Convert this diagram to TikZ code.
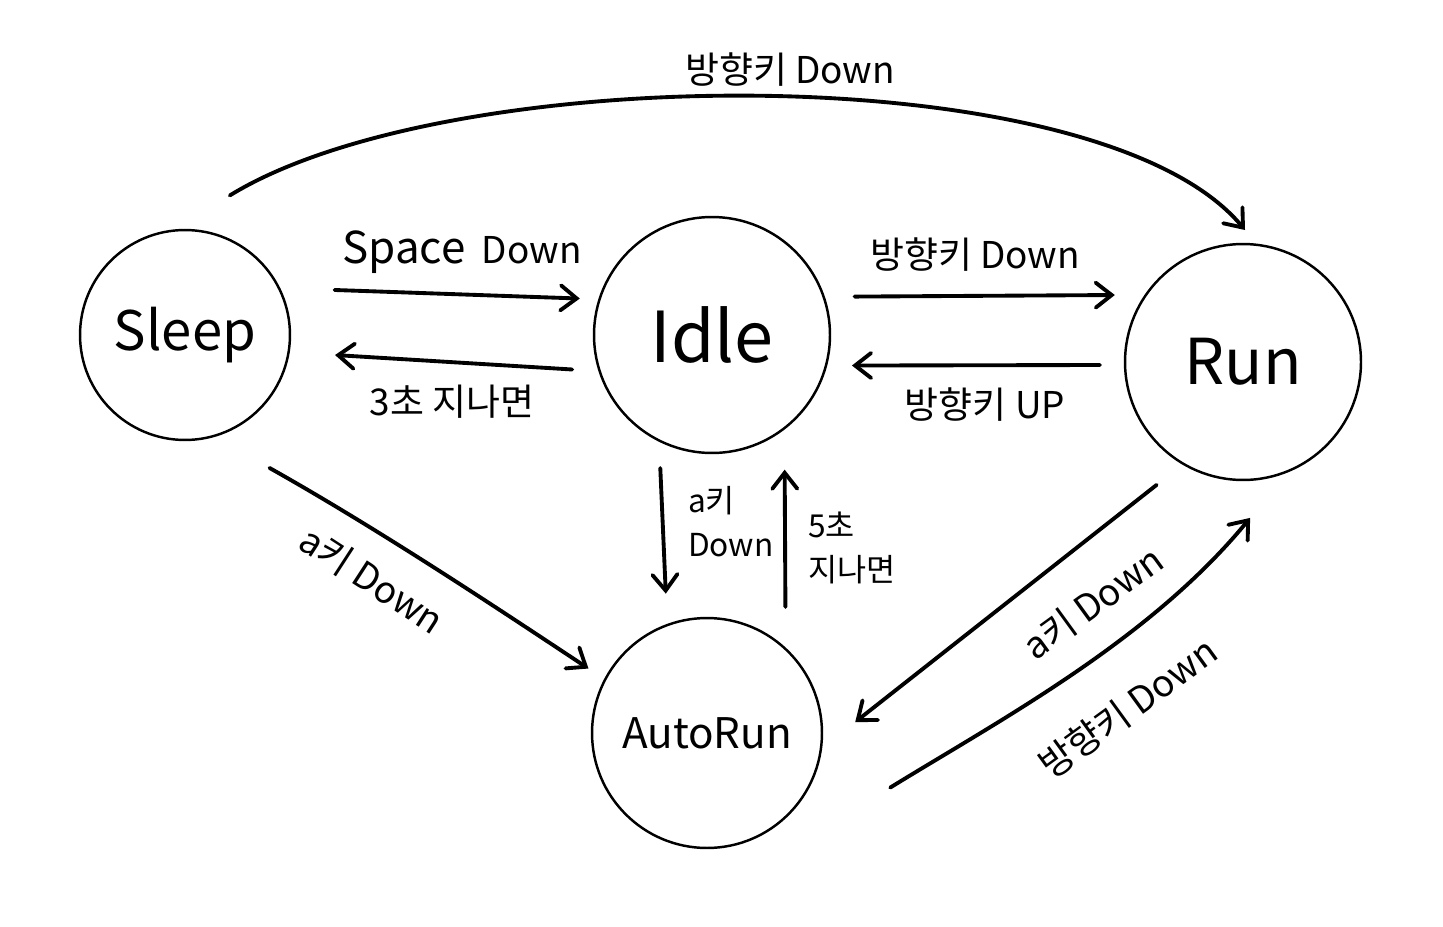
\documentclass[tikz,border=0pt]{standalone}
\usepackage{fontspec}
\setmainfont{Noto Sans CJK KR}
\usetikzlibrary{arrows.meta}
\begin{document}
\begin{tikzpicture}[x=0.02cm,y=-0.02cm,
  state/.style={circle,draw,line width=1.4pt,inner sep=0pt,outer sep=0pt},
  arr/.style={line width=2.2pt,line cap=round,-{Straight Barb[length=0.32cm,width=0.5cm,line cap=round]}},
  lbl/.style={font=\fontsize{21}{24}\selectfont,inner sep=1pt},
  slbl/.style={font=\fontsize{18}{25}\selectfont,inner sep=1pt,align=left,anchor=west}]
\useasboundingbox (0,0) rectangle (1443,926);
\node[state,minimum size=4.2cm,font=\fontsize{31}{34}\selectfont] (S) at (185,335) {Sleep};
\node[state,minimum size=4.72cm,font=\fontsize{40}{44}\selectfont] (I) at (712,335) {Idle};
\node[state,minimum size=4.72cm,font=\fontsize{36}{40}\selectfont] (R) at (1243,362) {Run};
\node[state,minimum size=4.6cm,font=\fontsize{24}{28}\selectfont] (A) at (707,733) {AutoRun};

% Sleep -> Run (top curve)
\draw[arr] ([shift={(54,-35)}]S.95) .. controls (450,60) and (1100,55) .. ([shift={(2,-14)}]R.90);
\node[lbl] (t1) at (790,70) {방향키 Down};
% Sleep -> Idle
\draw[arr] ([shift={(53,-4)}]S.23) -- ([shift={(-20,0)}]I.162);
\node[lbl] (t2) at (462,252) {{\fontsize{25}{28}\selectfont Space}\ \ Down};
% Idle -> Sleep
\draw[arr] ([shift={(-27,0)}]I.197) -- ([shift={(47,0)}]S.-11);
\node[lbl] (t3) at (452,402) {3초 지나면};
% Idle -> Run
\draw[arr] ([shift={(31,0)}]I.19) -- ([shift={(-26,-8)}]R.150);
\node[lbl] (t4) at (975,255) {방향키 Down};
% Run -> Idle
\draw[arr] ([shift={(-25,3)}]R.180) -- ([shift={(26,0)}]I.-15);
\node[lbl] (t5) at (985,405) {방향키 UP};
% Idle -> AutoRun
\draw[arr] ([shift={(0,27)}]I.-116) -- ([shift={(0,-32)}]A.111);
\node[slbl] (t6) at (686,522) {a키\\Down};
% AutoRun -> Idle
\draw[arr] ([shift={(0,-42)}]A.47) -- ([shift={(5,38)}]I.-55);
\node[slbl] (t7) at (806,548) {5초\\지나면};
% Sleep -> AutoRun
\draw[arr] ([shift={(32,42)}]S.-60) .. controls (380,530) and (500,610) .. ([shift={(-19,-7)}]A.150);
\node[lbl,rotate=-33] (t8) at (372,580) {a키 Down};
% Run -> AutoRun
\draw[arr] ([shift={(-46,12)}]R.-110) -- ([shift={(35,9)}]A.10);
\node[lbl,rotate=36] (t9) at (1093,603) {a키 Down};
% AutoRun -> Run
\draw[arr] ([shift={(79,6)}]A.-25) .. controls (1000,720) and (1150,640) .. ([shift={(3,38)}]R.-88);
\node[lbl,rotate=36] (t10) at (1128,708) {방향키 Down};
\end{tikzpicture}
\end{document}
